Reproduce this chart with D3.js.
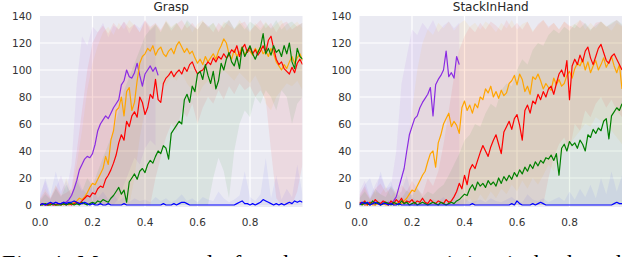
<!DOCTYPE html>
<html>
<head>
<meta charset="utf-8">
<script src="https://cdn.jsdelivr.net/npm/d3@7"></script>
<style>
  html, body { margin: 0; padding: 0; background: #fff; }
  svg { display: block; }
</style>
</head>
<body>
<svg id="viz" width="640" height="257"></svg>
<script>
// x step of the mean curves and of the shaded bands
var MEAN_STEP = 0.01;
var BAND_STEP = 0.02;

var xTicks = [0.0, 0.2, 0.4, 0.6, 0.8];
var yTicks = [0, 20, 40, 60, 80, 100, 120, 140];
var titles = ["Grasp", "StackInHand"];
var colors = ["#8a2be2", "#ffa500", "#ff0000", "#008000", "#0000ff"];

// ---- Grasp means ----
var graspPurple = [0,1,0,0,1,0,2,1,1,2,
  2,4,7,12,18,26,30,34,36,35,
  38,45,55,60,63,66,64,68,72,75,
  78,89,92,100,95,94,98,105,96,88,
  97,100,103,99,102,96];
var graspOrange = [0,0,1,0,0,1,0,0,1,0,
  1,0,1,2,3,5,4,6,9,13,
  16,15,19,23,27,36,30,48,55,70,
  72,80,66,84,87,70,76,92,105,110,
  112,116,114,118,111,115,117,112,110,114,
  116,112,118,121,117,113,116,112,114,109,
  105,108,104,110,106,109,112,108,114,118,
  123,120,112,108,115,110,113,117,111,115,
  114,111,116,113,117,112,114,110,116,112,
  106,103,100,104,101,106,110,105,109,112,
  107];
var graspRed = [0,1,0,0,1,0,0,1,0,1,
  0,1,0,1,2,1,3,5,7,6,
  9,8,12,14,13,19,22,26,31,37,
  46,52,48,62,58,66,69,65,80,76,
  67,72,82,79,93,78,76,90,94,96,
  99,95,98,100,97,102,99,104,106,101,
  97,99,100,103,106,104,109,106,110,108,
  112,109,111,115,113,118,110,116,119,113,
  117,112,115,111,114,118,113,122,125,116,
  108,104,106,101,99,97,102,98,105,108,
  104];
var graspGreen = [0,0,1,0,0,1,0,0,0,1,
  0,1,1,0,1,0,2,1,0,1,
  2,1,3,2,4,3,2,5,7,10,
  13,8,11,2,17,20,23,19,25,27,
  24,30,33,31,36,40,38,44,42,34,
  53,56,59,62,60,78,82,76,88,84,
  97,99,93,104,96,90,99,86,92,105,
  100,108,113,106,103,110,101,117,110,114,
  118,112,108,113,117,127,112,116,111,118,
  113,115,110,118,112,120,106,101,116,110,
  108];
var graspBlue = [0,1,0,1,2,1,2,1,1,2,
  1,2,2,3,2,1,1,2,1,0,
  1,0,0,1,0,0,1,0,0,0,
  0,0,1,0,0,0,0,0,0,0,
  0,0,0,0,0,0,0,1,0,0,
  0,1,0,1,2,2,1,0,0,0,
  0,0,0,0,0,0,0,0,0,0,
  0,0,0,0,0,1,2,3,1,1,
  0,1,0,1,2,4,3,2,1,0,
  1,0,1,0,1,2,1,3,2,3,
  2];

// ---- Grasp bands (upper / lower), step BAND_STEP ----
var graspPurpleHi = [8,18,5,12,22,10,30,90,125,118,
  132,128,135,124,133,130,136,127,134,131,
  137,129,133];
var graspPurpleLo = [0,0,0,0,0,0,0,0,0,0,
  0,0,0,0,0,5,15,25,35,30,
  42,48,44];
var graspOrangeHi = [5,12,6,15,8,20,10,30,55,85,
  105,118,128,132,126,135,130,137,133,128,
  136,131,134,129,137,132,135,130,136,128,
  134,137,131,135,129,136,133,130,137,132,
  128,135,131,136,130,134,137,129,133,136,
  131];
var graspOrangeLo = [0,0,0,0,0,0,0,0,0,0,
  0,0,0,0,0,0,0,0,20,50,
  70,85,80,90,88,95,92,98,90,85,
  80,88,92,85,95,100,96,92,98,94,
  90,96,88,75,70,80,85,90,88,92,
  85];
var graspRedHi = [4,10,5,14,7,9,12,40,70,100,
  120,128,133,127,135,130,136,131,134,128,
  137,132,135,130,136,129,134,137,131,135,
  130,136,133,128,135,131,137,130,134,136,
  129,133,137,131,135,128,134,136,130,133,
  135];
var graspRedLo = [0,0,0,0,0,0,0,0,0,0,
  0,0,0,0,0,0,0,0,0,0,
  0,0,20,35,50,60,55,70,65,75,
  60,72,80,75,85,78,88,82,90,85,
  88,80,85,78,40,5,0,0,0,10,
  30];
var graspGreenHi = [3,8,4,12,6,15,8,18,10,20,
  14,25,35,45,55,70,85,95,105,115,
  125,130,134,128,136,131,135,129,137,133,
  130,136,132,135,128,134,137,131,135,130,
  136,133,129,135,131,137,130,134,136,132,
  135];
var graspGreenLo = [0,0,0,0,0,0,0,0,0,0,
  0,0,0,0,0,0,0,0,0,0,
  0,0,0,0,0,0,0,0,0,0,
  0,0,0,20,35,25,5,40,60,70,
  65,80,75,85,80,70,85,80,60,75,
  80];
var graspBlueHi = [5,20,8,25,10,18,6,22,12,8,
  15,5,10,4,8,3,6,2,5,3,
  4,2,6,3,5,2,4,8,3,5,
  2,6,4,3,10,5,2,4,7,25,
  6,3,8,35,5,22,4,12,6,30,
  8];

// ---- StackInHand means ----
var stackPurple = [1,2,0,1,2,1,0,2,1,2,
  1,2,1,3,6,13,20,27,40,52,
  58,64,66,72,76,79,82,87,66,89,
  93,96,100,114,95,98,94,110,104];
var stackOrange = [0,1,0,0,1,0,0,1,0,1,
  0,0,1,0,1,2,1,3,5,8,
  11,10,14,18,22,25,32,38,40,28,
  46,52,60,64,68,58,62,59,53,72,
  77,70,74,68,75,72,80,78,86,83,
  88,80,84,79,85,81,83,90,92,96,
  89,97,93,84,88,82,95,93,97,92,
  86,90,87,85,94,89,93,88,90,96,
  99,94,101,105,103,108,100,106,98,103,
  107,100,104,109,102,106,110,103,98,104,
  86];
var stackRed = [2,1,3,0,2,1,4,2,1,3,
  2,0,3,1,4,2,5,1,3,2,
  4,1,3,2,5,2,1,4,2,1,
  3,2,1,4,2,3,6,10,16,12,
  22,15,26,30,27,33,39,44,40,36,
  43,48,52,45,38,54,58,62,56,64,
  67,59,48,70,74,68,77,75,82,78,
  84,80,86,88,82,90,97,100,95,107,
  78,103,108,104,111,106,114,117,109,104,
  110,116,119,113,107,105,110,112,108,104,
  100];
var stackGreen = [1,0,2,1,0,3,1,2,0,1,
  2,1,0,2,1,0,3,1,2,0,
  1,2,0,1,2,1,0,1,2,1,
  0,2,1,0,1,2,1,3,4,6,
  8,7,12,15,11,17,14,16,13,18,
  15,17,14,20,16,21,18,22,19,24,
  21,26,23,28,25,30,27,32,29,33,
  31,35,34,37,33,38,22,42,45,40,
  47,44,46,42,48,45,40,52,50,56,
  53,57,55,62,64,49,66,69,72,70,
  75];
var stackBlue = [0,2,1,2,0,1,2,1,0,1,
  1,0,1,0,0,1,0,0,0,0,
  0,0,0,0,0,0,0,0,0,0,
  0,0,0,0,0,0,0,0,0,0,
  0,0,0,1,0,0,0,0,0,0,
  0,0,0,0,0,0,0,0,1,0,
  3,1,0,0,0,0,1,0,1,2,
  1,0,0,0,0,0,0,0,0,0,
  0,0,0,0,0,0,0,0,0,0,
  0,0,0,0,0,0,0,1,2,1,
  1];

// ---- StackInHand bands ----
var stackPurpleHi = [10,18,6,15,22,12,14,40,90,110,
  130,126,135,130,137,128,133,136,131,135];
var stackOrangeHi = [6,12,4,10,8,14,6,12,9,40,
  70,100,120,130,126,135,131,136,129,134,
  137,132,135,130,136,133,128,135,131,137,
  130,134,136,129,133,137,131,135,130,136,
  132,134,137,130,135,131,136,133,129,135,
  132];
var stackOrangeLo = [0,0,0,0,0,0,0,0,0,0,
  0,0,0,0,0,0,0,0,0,0,
  0,5,0,8,3,10,5,12,8,15,
  10,18,12,20,15,22,30,25,35,40,
  45,50,55,60,58,65,62,60,55,50,
  45];
var stackRedHi = [8,14,5,12,16,9,13,7,15,10,
  18,12,8,20,14,25,45,70,95,115,
  125,132,128,135,130,136,133,129,137,131,
  135,130,136,128,134,137,132,135,130,136,
  133,131,137,134,129,135,136,132,134,137,
  133];
var stackRedLo = [0,0,0,0,0,0,0,0,0,0,
  0,0,0,0,0,0,0,0,0,0,
  0,0,0,0,0,0,0,0,0,0,
  0,0,0,0,0,0,20,35,45,50,
  40,60,55,70,65,75,80,72,78,70,
  65];
var stackGreenHi = [5,10,4,12,8,6,14,9,5,11,
  7,13,6,10,8,12,15,22,30,38,
  48,52,60,58,68,75,72,85,90,88,
  100,108,104,115,120,118,126,130,127,132,
  129,134,131,135,130,133,136,132,135,137,
  134];
var stackBlueHi = [6,15,20,8,25,12,18,5,10,22,
  6,3,5,2,4,3,6,2,4,3,
  5,2,3,4,2,5,3,2,4,6,
  3,2,8,4,3,5,2,4,6,3,
  10,4,12,6,15,5,20,8,25,10,
  22];

// lo = null means the band reaches down to zero
var panels = [
  {title: titles[0], left: 40, series: [
    {mean: graspPurple, hi: graspPurpleHi, lo: graspPurpleLo},
    {mean: graspOrange, hi: graspOrangeHi, lo: graspOrangeLo},
    {mean: graspRed, hi: graspRedHi, lo: graspRedLo},
    {mean: graspGreen, hi: graspGreenHi, lo: graspGreenLo},
    {mean: graspBlue, hi: graspBlueHi, lo: null}
  ]},
  {title: titles[1], left: 359.5, series: [
    {mean: stackPurple, hi: stackPurpleHi, lo: null},
    {mean: stackOrange, hi: stackOrangeHi, lo: stackOrangeLo},
    {mean: stackRed, hi: stackRedHi, lo: stackRedLo},
    {mean: stackGreen, hi: stackGreenHi, lo: null},
    {mean: stackBlue, hi: stackBlueHi, lo: null}
  ]}
];

var plotW = 262.5, plotTop = 16, plotBottom = 207;
var svg = d3.select("#viz");

panels.forEach(function(p, pi) {
  var x = d3.scaleLinear().domain([0, 1]).range([p.left, p.left + plotW]);
  var y = d3.scaleLinear().domain([-1.5, 140]).range([plotBottom, plotTop]);
  var g = svg.append("g");

  g.append("clipPath").attr("id", "clip" + pi)
    .append("rect")
    .attr("x", x(0)).attr("y", plotTop)
    .attr("width", plotW).attr("height", plotBottom - plotTop);

  g.append("rect")
    .attr("x", x(0)).attr("y", plotTop)
    .attr("width", plotW).attr("height", plotBottom - plotTop)
    .attr("fill", "#eaeaf2");

  // grid
  g.selectAll(".gx").data(xTicks.slice(1)).enter().append("line")
    .attr("x1", function(d) { return x(d); }).attr("x2", function(d) { return x(d); })
    .attr("y1", plotTop).attr("y2", plotBottom)
    .attr("stroke", "#fff").attr("stroke-width", 1.2);
  g.selectAll(".gy").data(yTicks.slice(1, -1)).enter().append("line")
    .attr("x1", x(0)).attr("x2", x(1))
    .attr("y1", function(d) { return y(d); }).attr("y2", function(d) { return y(d); })
    .attr("stroke", "#fff").attr("stroke-width", 1.2);

  var plot = g.append("g").attr("clip-path", "url(#clip" + pi + ")");

  // shaded bands
  p.series.forEach(function(s, si) {
    var area = d3.area()
      .x(function(d, i) { return x(i * BAND_STEP); })
      .y0(function(d, i) { return y(s.lo ? s.lo[i] : 0); })
      .y1(function(d) { return y(d); });
    plot.append("path")
      .attr("d", area(s.hi))
      .attr("fill", colors[si])
      .attr("fill-opacity", si == 4 ? 0.05 : 0.07);
  });

  // mean curves
  p.series.forEach(function(s, si) {
    var line = d3.line()
      .x(function(d, i) { return x(i * MEAN_STEP); })
      .y(function(d) { return y(d); });
    plot.append("path")
      .attr("d", line(s.mean))
      .attr("fill", "none")
      .attr("stroke", colors[si])
      .attr("stroke-width", 1.2)
      .attr("stroke-linejoin", "round");
  });

  // tick labels
  g.selectAll(".ty").data(yTicks).enter().append("text")
    .attr("x", x(0) - 8).attr("y", function(d) { return y(d) + 3.6; })
    .attr("text-anchor", "end")
    .attr("font-family", "DejaVu Sans").attr("font-size", 10.5)
    .attr("fill", "#333")
    .text(function(d) { return d; });
  g.selectAll(".tx").data(xTicks).enter().append("text")
    .attr("x", function(d) { return x(d); }).attr("y", 226)
    .attr("text-anchor", "middle")
    .attr("font-family", "DejaVu Sans").attr("font-size", 10.5)
    .attr("fill", "#333")
    .text(function(d) { return d.toFixed(1); });

  g.append("text")
    .attr("x", x(0.5)).attr("y", 10.5)
    .attr("text-anchor", "middle")
    .attr("font-family", "DejaVu Sans").attr("font-size", 12)
    .attr("fill", "#262626")
    .text(p.title);
});

// figure caption, cut off by the bottom edge as in the source image
svg.append("text")
  .attr("x", 2).attr("y", 271)
  .attr("font-family", "Liberation Serif").attr("font-size", 24)
  .attr("fill", "#000")
  .attr("textLength", 636).attr("lengthAdjust", "spacing")
  .text("Fig. 4: Mean reward of each agent over training in both tasks");
</script>
</body>
</html>
